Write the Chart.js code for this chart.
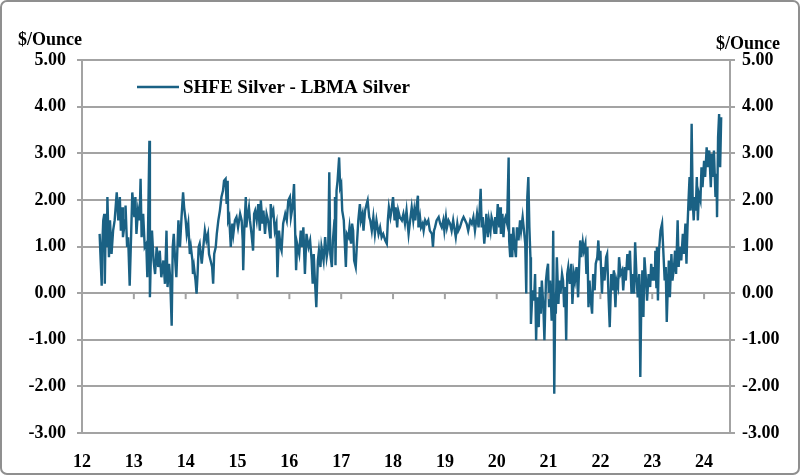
<!DOCTYPE html>
<html>
<head>
<meta charset="utf-8">
<script src="https://cdn.jsdelivr.net/npm/chart.js@4.4.1/dist/chart.umd.min.js"></script>
<style>
html, body { margin: 0; padding: 0; background: #fff; }
#wrap { width: 800px; height: 476px; }
</style>
</head>
<body>
<div id="wrap"><canvas id="myChart" width="800" height="476"></canvas></div>
<script>
// dates as fractional years (12 = 2012), values in $/oz
var dates = [
  12.34,12.36,12.38,12.39,12.41,12.43,12.44,12.46,12.48,12.49,12.52,12.54,12.57,12.60,12.63,12.67,12.70,12.73,12.75,12.78,
  12.79,12.83,12.84,12.87,12.89,12.92,12.95,12.97,13.01,13.03,13.05,13.08,13.11,13.13,13.15,13.18,13.21,13.24,13.26,13.30,
  13.31,13.33,13.35,13.38,13.41,13.44,13.47,13.50,13.53,13.57,13.60,13.63,13.65,13.68,13.70,13.73,13.75,13.77,13.79,
  13.82,13.86,13.89,13.92,13.95,13.97,14.00,14.02,14.05,14.08,14.10,14.13,14.14,14.16,14.19,14.21,14.23,14.25,14.27,14.31,
  14.34,14.37,14.40,14.43,14.45,14.48,14.51,14.53,14.55,14.58,14.60,14.63,14.66,14.69,14.72,14.74,14.77,14.79,14.81,14.82,
  14.84,14.87,14.90,14.92,14.95,14.98,15.01,15.05,15.08,15.10,15.11,15.13,15.16,15.17,15.19,15.22,15.24,15.27,15.30,15.32,
  15.34,15.37,15.40,15.43,15.45,15.48,15.50,15.53,15.56,15.59,15.63,15.64,15.67,15.69,15.72,15.75,15.77,15.80,15.83,15.85,
  15.88,15.92,15.95,15.98,16.01,16.03,16.06,16.09,16.11,16.13,16.15,16.19,16.22,16.24,16.27,16.30,16.33,16.37,16.40,16.43,
  16.45,16.47,16.49,16.52,16.55,16.57,16.60,16.62,16.66,16.69,16.72,16.75,16.77,16.79,16.82,16.84,16.87,
  16.88,16.89,16.91,16.93,16.96,16.98,17.00,17.02,17.05,17.07,17.09,17.11,17.14,17.16,17.19,17.21,17.23,17.25,17.28,17.30,
  17.33,17.36,17.38,17.41,17.43,17.46,17.49,17.51,17.54,17.56,17.59,17.62,17.65,17.68,17.72,17.75,17.78,17.81,17.85,17.88,
  17.90,17.92,17.95,17.97,18.00,18.03,18.05,18.08,18.10,18.13,18.17,18.20,18.23,18.26,18.30,18.33,18.36,18.39,18.41,
  18.43,18.45,18.48,18.49,18.52,18.54,18.57,18.59,18.62,18.65,18.68,18.71,18.75,18.77,18.79,18.81,18.84,18.88,18.91,18.94,
  18.97,18.99,19.02,19.04,19.07,19.10,19.13,19.16,19.18,19.21,19.24,19.26,19.29,19.33,19.36,19.39,19.42,19.45,19.49,19.52,
  19.55,19.58,19.62,19.65,19.67,19.69,19.71,19.73,19.76,19.78,19.80,19.83,19.85,19.88,19.90,19.93,19.96,
  19.97,19.99,20.02,20.05,20.07,20.08,20.11,20.13,20.15,20.17,20.20,20.23,20.24,20.26,20.28,20.30,20.32,20.34,20.37,20.39,
  20.42,20.45,20.47,20.50,20.52,20.55,20.57,20.59,20.61,20.63,20.65,20.66,20.69,20.72,20.74,20.76,20.78,20.81,20.83,20.85,
  20.87,20.90,20.92,20.95,20.97,20.99,21.01,21.03,21.06,21.08,21.09,21.11,21.13,21.14,21.16,21.19,21.21,21.23,21.26,21.28,
  21.30,21.32,21.34,21.36,21.38,21.41,21.44,21.46,21.49,21.51,
  21.54,21.57,21.59,21.61,21.63,21.66,21.68,21.71,21.73,21.75,21.77,21.79,21.81,21.84,21.86,21.89,21.91,21.94,21.96,21.98,
  22.00,22.03,22.05,22.08,22.11,22.13,22.16,22.18,22.21,22.23,22.26,22.29,22.31,22.34,22.36,22.39,22.42,22.44,22.47,22.49,
  22.52,22.54,22.57,22.60,22.62,22.65,22.67,22.70,22.72,22.75,22.77,22.79,22.81,22.83,22.85,22.88,22.90,22.93,22.96,22.98,
  23.01,23.03,23.05,
  23.06,23.08,23.09,23.11,23.13,23.16,23.19,23.21,23.24,23.26,23.28,23.30,23.32,23.34,23.37,23.39,23.42,23.44,23.46,23.49,
  23.51,23.53,23.56,23.59,23.61,23.64,23.66,23.68,23.70,23.72,23.74,23.76,23.78,23.80,23.82,23.84,23.86,23.88,23.90,23.93,
  23.95,23.97,24.00,24.02,24.05,24.07,24.10,24.13,24.15,24.17,24.19,24.22,24.24,24.25,24.27,24.29,24.31,24.33
];
var spread = [
  1.27,0.70,0.16,0.99,1.56,1.70,0.20,1.70,0.99,2.06,0.77,1.56,0.84,1.34,1.56,2.16,1.56,2.06,1.34,1.84,
  1.20,1.56,1.88,0.99,1.20,0.16,1.34,2.16,1.63,2.06,1.27,1.77,1.56,2.45,1.20,1.70,0.99,1.06,0.34,3.27,
  -0.09,0.84,1.34,0.70,0.41,0.99,0.56,0.91,0.34,0.70,0.20,1.34,0.13,0.63,0.34,-0.70,0.99,1.27,0.84,
  0.34,1.56,0.99,1.63,2.16,1.84,1.56,1.27,1.49,0.84,0.99,0.70,0.41,0.56,0.27,-0.01,0.41,0.99,1.06,0.63,
  0.99,1.34,1.13,1.27,0.84,0.70,0.56,0.20,0.84,0.99,1.27,1.56,1.77,2.06,2.20,2.41,2.45,1.91,2.41,1.56,
  1.63,0.99,1.49,1.27,1.56,1.63,1.41,1.70,1.56,1.13,0.49,1.34,2.06,1.41,1.63,1.84,1.56,1.27,0.91,1.70,
  1.77,1.56,1.91,1.34,1.99,1.49,1.77,1.27,1.70,1.56,1.20,1.91,1.70,1.77,1.34,1.49,0.34,1.34,0.99,0.91,
  1.49,1.70,1.56,1.99,2.06,1.63,1.84,2.34,1.41,0.49,1.06,0.84,1.34,0.99,1.41,0.41,1.27,0.99,1.13,0.70,
  0.20,0.84,0.34,-0.30,0.70,0.91,0.56,0.99,0.70,1.20,0.77,0.99,2.59,0.84,0.56,1.13,1.56,
  2.06,0.60,2.20,2.41,2.91,2.27,2.34,1.77,1.56,1.06,0.56,1.27,1.20,1.41,1.06,1.49,1.34,0.70,0.56,0.99,
  1.56,1.91,1.56,1.70,1.34,1.77,1.91,1.99,1.63,1.56,1.34,1.63,1.27,1.56,1.27,1.41,1.20,1.27,1.13,1.06,
  1.56,1.84,1.63,1.77,2.06,1.56,1.84,1.41,1.77,1.63,1.56,1.70,1.49,1.77,1.27,1.56,1.84,1.56,1.77,
  1.56,1.84,2.09,1.41,1.63,1.41,1.49,1.34,1.56,1.49,1.56,1.34,1.27,0.99,1.34,1.41,1.56,1.63,1.49,1.41,
  1.56,1.34,1.63,1.41,1.56,1.49,1.34,1.56,1.41,1.20,1.49,1.34,1.41,1.56,1.63,1.56,1.49,1.34,1.56,1.49,
  1.63,1.34,1.70,1.41,1.77,2.24,1.41,1.63,1.06,1.34,1.70,1.20,1.56,1.34,1.63,1.49,1.27,
  1.63,1.27,1.91,1.41,1.84,1.27,1.70,1.20,1.56,1.63,1.49,2.91,1.13,0.77,1.27,0.77,1.41,1.06,0.77,1.41,
  1.13,1.56,1.34,1.63,1.41,1.06,-0.01,2.06,2.49,1.41,0.77,-0.66,0.06,-0.16,0.41,-1.01,-0.09,-0.73,0.13,-0.44,
  0.27,-0.30,-1.01,0.27,0.49,0.63,-0.30,0.27,-0.59,0.20,1.34,-2.16,-0.01,-0.44,0.77,-0.23,0.27,-0.01,0.41,0.27,
  -0.30,0.13,-1.01,0.41,0.56,0.20,0.63,-0.23,0.41,0.27,
  0.56,-0.09,0.56,1.13,0.77,1.09,0.91,1.06,0.41,0.99,-0.30,0.27,-0.09,-0.44,0.41,0.06,0.63,0.77,1.13,0.70,
  0.91,-0.01,0.56,0.27,0.77,0.84,-0.16,-0.73,0.41,0.06,0.49,-0.30,0.27,0.13,0.77,0.41,0.49,0.06,0.56,0.27,
  0.84,0.49,0.91,-0.01,0.41,-0.01,1.09,0.27,-0.09,0.41,-1.80,-0.09,0.49,-0.51,0.77,0.27,-0.16,0.41,0.13,0.63,
  0.27,0.56,0.27,
  0.91,0.13,0.99,-0.16,0.91,1.34,1.49,0.99,0.27,0.56,-0.62,0.13,0.70,-0.09,0.84,0.27,0.56,0.91,0.41,1.56,
  0.56,0.99,0.70,1.27,0.84,1.49,0.63,1.41,1.99,2.49,1.77,3.63,1.99,1.56,2.06,1.77,2.49,1.56,2.13,1.99,
  2.70,2.27,2.84,2.49,3.13,2.70,3.06,2.27,2.99,2.49,3.06,2.06,2.56,1.63,3.34,3.84,2.70,3.77
];
var yearTicks = [12, 13, 14, 15, 16, 17, 18, 19, 20, 21, 22, 23, 24];
var valueTicks = [-3, -2, -1, 0, 1, 2, 3, 4, 5];
var seriesLabel = 'SHFE Silver - LBMA Silver';
var unitLabel = '$/Ounce';

var lineColor = '#1a6184';
var gridColor = '#a3a3a3';
var labelFont = { family: 'Liberation Serif', size: 18, weight: 'bold' };

var points = dates.map(function (d, i) { return { x: d, y: spread[i] }; });

// frame, axis captions, legend and the small year ticks on the zero line
var decor = {
  id: 'decor',
  beforeDraw: function (chart) {
    var c = chart.ctx;
    c.save();
    c.fillStyle = '#fff';
    c.fillRect(0, 0, chart.width, chart.height);
    c.restore();
  },
  afterDraw: function (chart) {
    var c = chart.ctx;
    var xs = chart.scales.x, ys = chart.scales.y;
    c.save();
    // year ticks hanging from zero line
    c.strokeStyle = gridColor;
    c.lineWidth = 2;
    var y0 = ys.getPixelForValue(0);
    yearTicks.forEach(function (t) {
      var px = xs.getPixelForValue(t);
      c.beginPath();
      c.moveTo(px, y0);
      c.lineTo(px, y0 + 6);
      c.stroke();
    });
    // unit captions
    c.fillStyle = '#000';
    c.font = 'bold 18px "Liberation Serif"';
    c.textBaseline = 'middle';
    c.textAlign = 'left';
    c.fillText(unitLabel, 18, 40);
    c.fillText(unitLabel, 716, 44);
    // legend
    c.strokeStyle = lineColor;
    c.lineWidth = 2.5;
    c.beginPath();
    c.moveTo(137, 87);
    c.lineTo(179, 87);
    c.stroke();
    c.font = 'bold 19px "Liberation Serif"';
    c.fillText(seriesLabel, 183, 88);
    // outer frame
    c.strokeStyle = '#8f8f8f';
    c.lineWidth = 2;
    c.beginPath();
    c.roundRect(1, 1, chart.width - 2, chart.height - 3, 6);
    c.stroke();
    c.restore();
  }
};

var ctx = document.getElementById('myChart').getContext('2d');
var chart = new Chart(ctx, {
  type: 'line',
  data: {
    datasets: [{
      label: seriesLabel,
      data: points,
      borderColor: lineColor,
      borderWidth: 2.4,
      pointRadius: 0,
      tension: 0,
      fill: false
    }]
  },
  options: {
    responsive: false,
    animation: false,
    devicePixelRatio: 1,
    layout: { padding: { top: 60, left: 0, right: 0, bottom: 0 } },
    plugins: { legend: { display: false }, tooltip: { enabled: false } },
    scales: {
      x: {
        type: 'linear',
        position: 'bottom',
        min: 12,
        max: 24.5,
        afterBuildTicks: function (s) { s.ticks = yearTicks.map(function (v) { return { value: v }; }); },
        afterFit: function (s) { s.height = 43; },
        grid: { display: false },
        border: { display: false },
        ticks: { color: '#000', font: labelFont, padding: 11, maxRotation: 0, autoSkip: false,
          callback: function (v) { return String(v); } }
      },
      y: {
        position: 'left',
        min: -3,
        max: 5,
        afterBuildTicks: function (s) { s.ticks = valueTicks.map(function (v) { return { value: v }; }); },
        afterFit: function (s) { s.width = 82; },
        grid: { color: gridColor, lineWidth: 2, tickLength: 5 },
        border: { color: gridColor, width: 2 },
        ticks: { color: '#000', font: labelFont, padding: 11,
          callback: function (v) { return Number(v).toFixed(2); } }
      },
      y2: {
        position: 'right',
        min: -3,
        max: 5,
        afterBuildTicks: function (s) { s.ticks = valueTicks.map(function (v) { return { value: v }; }); },
        afterFit: function (s) { s.width = 70; },
        grid: { color: gridColor, lineWidth: 2, tickLength: 5, drawOnChartArea: false },
        border: { color: gridColor, width: 2 },
        ticks: { color: '#000', font: labelFont, padding: 7,
          callback: function (v) { return Number(v).toFixed(2); } }
      }
    }
  },
  plugins: [decor]
});
</script>
</body>
</html>
